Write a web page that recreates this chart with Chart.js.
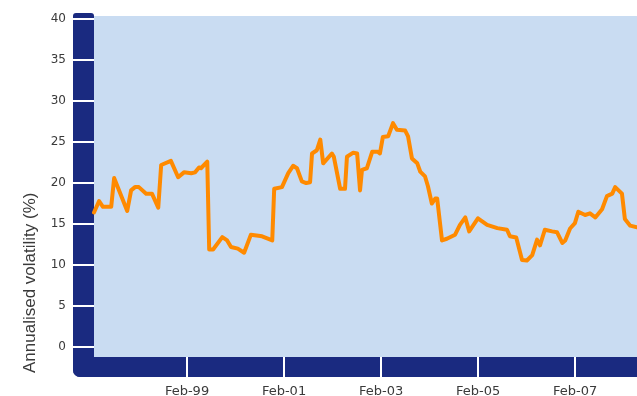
<!DOCTYPE html>
<html>
<head>
<meta charset="utf-8">
<title>Annualised volatility</title>
<script src="https://cdn.jsdelivr.net/npm/chart.js@4.4.1/dist/chart.umd.min.js"></script>
<style>
    html, body { margin: 0; padding: 0; background: #ffffff; }
    canvas { display: block; }
</style>
</head>
<body>
<canvas id="volChart" width="637" height="396"></canvas>
<script>
// Dates en années décimales (Feb-99 = 1999.083)
const dates = [
    1997.165, 1997.27, 1997.35, 1997.52, 1997.58, 1997.85, 1997.93, 1998.01, 1998.09, 1998.24,
    1998.36, 1998.49, 1998.55, 1998.75, 1998.90, 1999.02, 1999.17, 1999.25, 1999.33, 1999.37,
    1999.50, 1999.54, 1999.62, 1999.81, 1999.91, 1999.99, 2000.13, 2000.26, 2000.40, 2000.63,
    2000.84, 2000.88, 2001.04, 2001.17, 2001.27, 2001.35, 2001.45, 2001.54, 2001.62, 2001.66,
    2001.76, 2001.83, 2001.89, 2002.07, 2002.11, 2002.24, 2002.34, 2002.38, 2002.51, 2002.59,
    2002.65, 2002.69, 2002.79, 2002.90, 2003.02, 2003.06, 2003.12, 2003.23, 2003.33, 2003.41,
    2003.58, 2003.64, 2003.72, 2003.83, 2003.89, 2003.99, 2004.05, 2004.13, 2004.20, 2004.24,
    2004.34, 2004.44, 2004.61, 2004.71, 2004.82, 2004.90, 2005.08, 2005.27, 2005.48, 2005.68,
    2005.74, 2005.87, 2005.99, 2006.09, 2006.20, 2006.30, 2006.36, 2006.46, 2006.61, 2006.71,
    2006.82, 2006.88, 2006.98, 2007.08, 2007.15, 2007.29, 2007.39, 2007.50, 2007.64, 2007.74,
    2007.85, 2007.91, 2008.05, 2008.11, 2008.22, 2008.36
];

// Volatilité annualisée (%)
const volatility = [
    16.4, 17.8, 17.1, 17.1, 20.6, 16.6, 19.1, 19.5, 19.5, 18.7,
    18.7, 17.0, 22.2, 22.7, 20.7, 21.3, 21.2, 21.3, 21.9, 21.8,
    22.6, 11.9, 11.9, 13.4, 13.0, 12.2, 12.0, 11.5, 13.7, 13.5,
    13.0, 19.3, 19.5, 21.2, 22.1, 21.8, 20.2, 20.0, 20.1, 23.6,
    24.0, 25.3, 22.4, 23.6, 23.2, 19.3, 19.3, 23.2, 23.7, 23.6,
    19.1, 21.6, 21.8, 23.8, 23.8, 23.6, 25.6, 25.7, 27.3, 26.5,
    26.4, 25.7, 23.0, 22.4, 21.4, 20.8, 19.6, 17.5, 18.1, 18.1,
    13.0, 13.2, 13.7, 14.9, 15.8, 14.1, 15.7, 14.9, 14.5, 14.3,
    13.5, 13.35, 10.6, 10.55, 11.2, 13.1, 12.4, 14.3, 14.1, 14.0,
    12.7, 13.0, 14.45, 15.1, 16.5, 16.1, 16.3, 15.8, 16.8, 18.4,
    18.7, 19.5, 18.7, 15.6, 14.8, 14.6
];

const yTicks = [0, 5, 10, 15, 20, 25, 30, 35, 40];
const xTickYears = [1999.083, 2001.083, 2003.083, 2005.083, 2007.083];
const xTickLabels = ['Feb-99', 'Feb-01', 'Feb-03', 'Feb-05', 'Feb-07'];
const yTitle = 'Annualised volatility (%)';

const navy = '#1a2a80';
const plotBg = '#c9dcf2';
const lineColor = '#ff8a00';
const textColor = '#3a3a3a';

// Cadre bleu foncé + fond de la zone de tracé
const framePlugin = {
    id: 'frame',
    beforeDraw: function(chart) {
        const ctx = chart.ctx;
        const a = chart.chartArea;
        const bandW = 21;
        const bandH = 20;

        ctx.save();
        ctx.fillStyle = plotBg;
        ctx.fillRect(a.left, a.top, a.right - a.left, a.bottom - a.top);

        ctx.fillStyle = navy;
        ctx.beginPath();
        ctx.roundRect(a.left - bandW, a.top - 3, bandW, a.bottom - a.top + 3 + bandH, [3, 3, 0, 7]);
        ctx.fill();
        ctx.beginPath();
        ctx.roundRect(a.left - bandW, a.bottom, a.right - a.left + bandW, bandH, [0, 0, 0, 7]);
        ctx.fill();

        // marques blanches des graduations
        ctx.fillStyle = '#ffffff';
        chart.scales.y.ticks.forEach(function(t) {
            const py = Math.round(chart.scales.y.getPixelForValue(t.value));
            ctx.fillRect(a.left - bandW, py - 1, bandW, 2);
        });
        chart.scales.x.ticks.forEach(function(t) {
            const px = Math.round(chart.scales.x.getPixelForValue(t.value));
            ctx.fillRect(px - 1, a.bottom, 2, bandH);
        });
        ctx.restore();
    },
    afterDraw: function(chart) {
        // titre de l'axe vertical, aligné en bas
        const ctx = chart.ctx;
        ctx.save();
        ctx.translate(30, 373);
        ctx.rotate(-Math.PI / 2);
        ctx.font = '17px "Liberation Sans", Arial, sans-serif';
        ctx.fillStyle = textColor;
        ctx.textAlign = 'left';
        ctx.textBaseline = 'middle';
        ctx.fillText(yTitle, 0, 0);
        ctx.restore();
    }
};

const points = dates.map(function(d, i) {
    return { x: d, y: volatility[i] };
});

new Chart(document.getElementById('volChart'), {
    type: 'line',
    data: {
        datasets: [{
            data: points,
            borderColor: lineColor,
            borderWidth: 4,
            borderJoinStyle: 'round',
            borderCapStyle: 'round',
            pointRadius: 0,
            tension: 0,
            fill: false,
            clip: false
        }]
    },
    options: {
        responsive: false,
        animation: false,
        devicePixelRatio: 1,
        layout: { padding: { top: 16, right: 0, bottom: 0, left: 0 } },
        plugins: {
            legend: { display: false },
            tooltip: { enabled: false }
        },
        scales: {
            x: {
                type: 'linear',
                min: dates[0],
                max: dates[dates.length - 1],
                grid: { display: false, drawTicks: false },
                border: { display: false },
                afterBuildTicks: function(scale) {
                    scale.ticks = xTickYears.map(function(v) { return { value: v }; });
                },
                afterFit: function(scale) {
                    scale.height = 39;
                    scale.paddingLeft = 0;
                    scale.paddingRight = 0;
                },
                ticks: {
                    autoSkip: false,
                    maxRotation: 0,
                    padding: 27,
                    color: textColor,
                    font: { family: '"DejaVu Sans", sans-serif', size: 13 },
                    callback: function(value) {
                        const i = xTickYears.indexOf(value);
                        return i >= 0 ? xTickLabels[i] : '';
                    }
                }
            },
            y: {
                min: -1.22,
                max: 40.37,
                grid: { display: false, drawTicks: false },
                border: { display: false },
                afterBuildTicks: function(scale) {
                    scale.ticks = yTicks.map(function(v) { return { value: v }; });
                },
                afterFit: function(scale) {
                    scale.width = 94;
                    scale.paddingTop = 0;
                    scale.paddingBottom = 0;
                },
                ticks: {
                    autoSkip: false,
                    padding: 28,
                    color: textColor,
                    font: { family: '"DejaVu Sans", sans-serif', size: 12 }
                }
            }
        }
    },
    plugins: [framePlugin]
});
</script>
</body>
</html>
